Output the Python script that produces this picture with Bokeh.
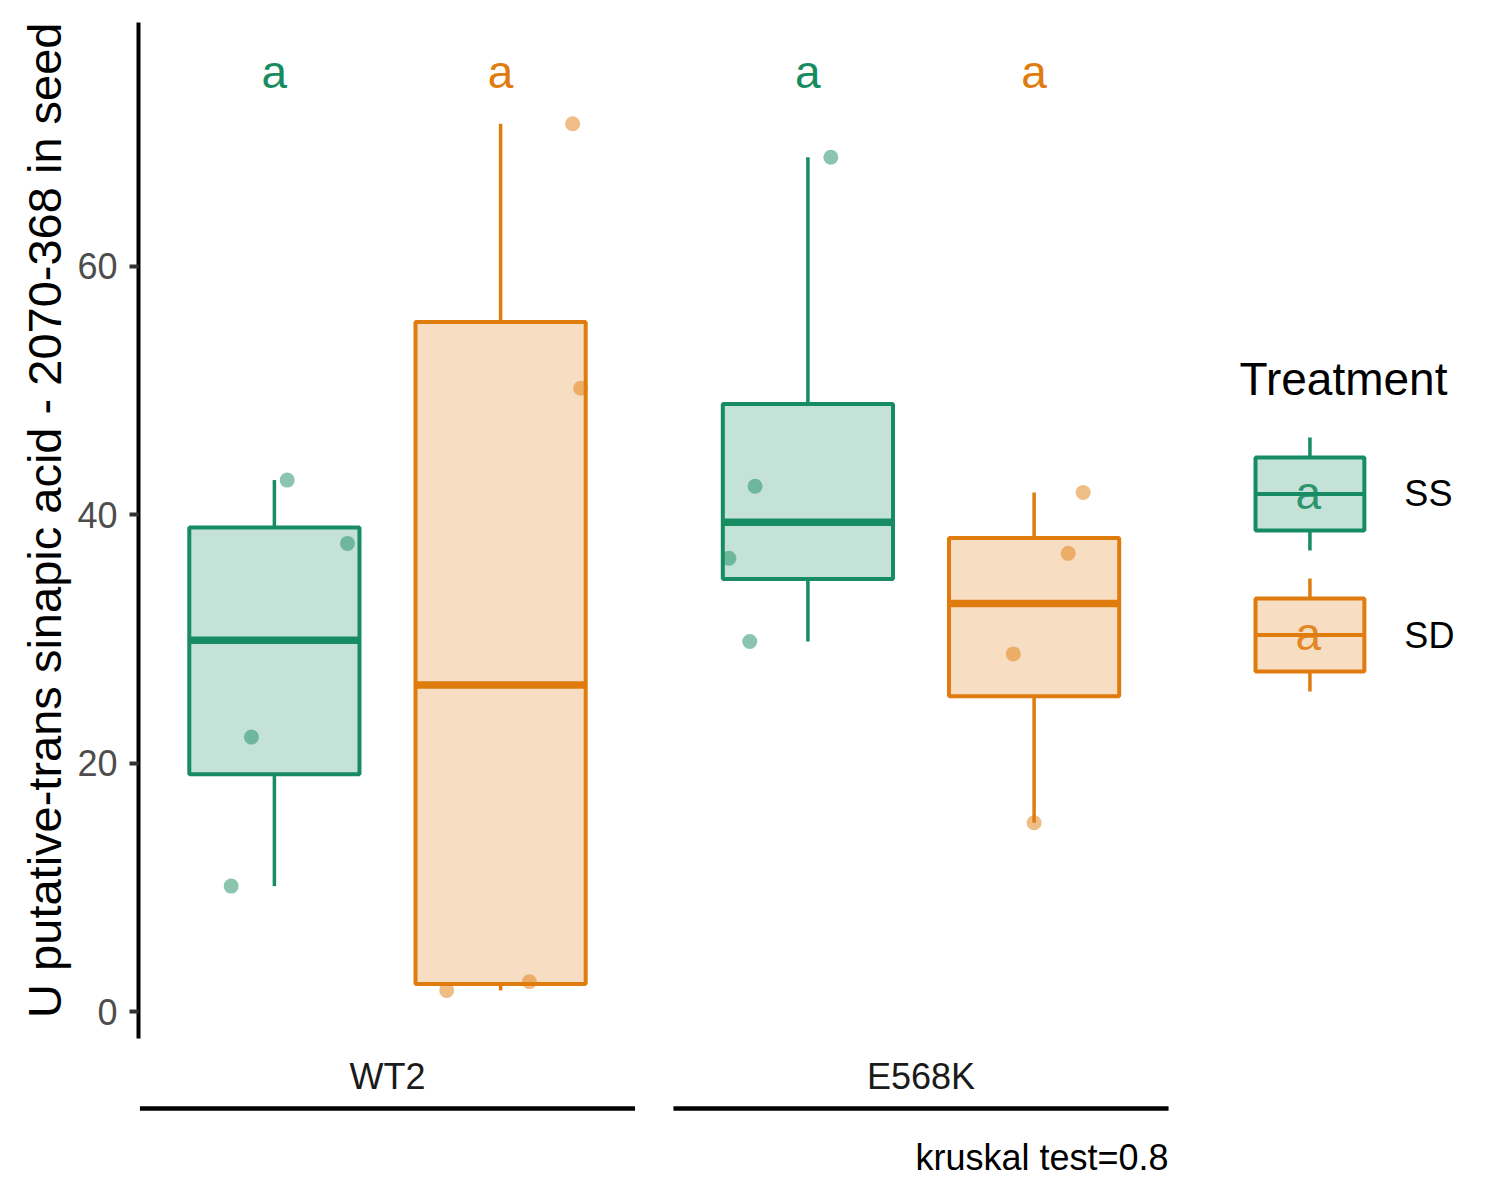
import numpy as np
from bokeh.plotting import figure
from bokeh.models import FixedTicker, Range1d, ColumnDataSource, Title
from bokeh.core.properties import value
from bokeh.embed import file_html
from bokeh.resources import INLINE

# ---------------- data ----------------
genotypes = ["WT2", "E568K"]
treatments = ["SS", "SD"]
treat_colors = ["#178B62", "#E07B0E"]

wt2_ss = [10.1, 22.1, 37.7, 42.8]
wt2_sd = [1.7, 2.4, 50.2, 71.5]
e568k_ss = [29.8, 36.5, 42.3, 68.8]
e568k_sd = [15.2, 28.8, 36.9, 41.8]

# horizontal jitter of each point (x units), as seen in the picture
wt2_ss_jit = [-0.081, -0.043, 0.137, 0.024]
wt2_sd_jit = [-0.101, 0.054, 0.150, 0.135]
e568k_ss_jit = [-0.109, -0.148, -0.099, 0.043]
e568k_sd_jit = [0.000, -0.039, 0.064, 0.092]

letters = ["a", "a", "a", "a"]
letter_y = 75.7
yticks = [0, 20, 40, 60]
y_label = "U putative-trans sinapic acid - 2070-368 in seed"
caption = "kruskal test=0.8"
legend_title = "Treatment"

# ---------------- layout constants ----------------
FONT = "Liberation Sans"
dodge = 0.212
box_w = 0.319
x_lo, x_hi = 0.5333, 3.0562
y_lo, y_hi = -13.93, 79.65
axis_bottom = -2.17

groups = [
    (0, 0, wt2_ss, wt2_ss_jit),
    (0, 1, wt2_sd, wt2_sd_jit),
    (1, 0, e568k_ss, e568k_ss_jit),
    (1, 1, e568k_sd, e568k_sd_jit),
]

box = dict(x=[], left=[], right=[], q1=[], q3=[], med=[], lo=[], hi=[], color=[])
pts = dict(x=[], y=[], color=[])
for gi, ti, vals, jit in groups:
    v = np.array(vals, dtype=float)
    xc = gi + 1 + (-dodge if ti == 0 else dodge)
    q1, med, q3 = np.percentile(v, [25, 50, 75])
    iqr = q3 - q1
    lo = v[v >= q1 - 1.5 * iqr].min()
    hi = v[v <= q3 + 1.5 * iqr].max()
    c = treat_colors[ti]
    box["x"].append(xc)
    box["left"].append(xc - box_w / 2)
    box["right"].append(xc + box_w / 2)
    box["q1"].append(q1)
    box["q3"].append(q3)
    box["med"].append(med)
    box["lo"].append(lo)
    box["hi"].append(hi)
    box["color"].append(c)
    for val, j in zip(vals, jit):
        pts["x"].append(xc + j)
        pts["y"].append(val)
        pts["color"].append(c)

bsrc = ColumnDataSource(box)
psrc = ColumnDataSource(pts)

p = figure(width=1484, height=1184,
           x_range=Range1d(x_lo, x_hi), y_range=Range1d(y_lo, y_hi),
           output_backend="svg", toolbar_location=None,
           min_border_left=138, min_border_top=22,
           min_border_right=0, min_border_bottom=0,
           x_axis_location=None)
p.outline_line_color = None
p.xgrid.visible = False
p.ygrid.visible = False
p.background_fill_color = "white"
p.border_fill_color = "white"

ax = p.yaxis[0]
ax.ticker = FixedTicker(ticks=yticks)
ax.bounds = (axis_bottom, y_hi)
ax.axis_line_width = 4
ax.axis_line_color = "black"
ax.major_tick_in = 0
ax.major_tick_out = 9
ax.major_tick_line_width = 4
ax.major_tick_line_color = "#333333"
ax.minor_tick_line_color = None
ax.major_label_standoff = 12
ax.major_label_text_font = FONT
ax.major_label_text_font_size = "36px"
ax.major_label_text_color = "#4D4D4D"

# y axis title, placed along the data panel (ends at the top of the axis)
p.add_layout(Title(text=y_label, align="right", standoff=8,
                   text_font=FONT, text_font_size="47px",
                   text_font_style="normal", text_color="black"), "left")

# whiskers
p.segment(x0="x", y0="q3", x1="x", y1="hi", line_color="color", line_width=3.5, source=bsrc)
p.segment(x0="x", y0="q1", x1="x", y1="lo", line_color="color", line_width=3.5, source=bsrc)
# boxes
p.quad(left="left", right="right", bottom="q1", top="q3", fill_color="color",
       fill_alpha=0.25, line_color="color", line_width=4, source=bsrc)
# medians
p.segment(x0="left", y0="med", x1="right", y1="med", line_color="color", line_width=7.5, source=bsrc)
# points
p.scatter(x="x", y="y", size=15, fill_color="color", fill_alpha=0.5, line_color=None, source=psrc)
# letters
p.text(x=box["x"], y=[letter_y] * 4, text=letters, text_color=box["color"],
       text_font=value(FONT), text_font_size="46px", text_align="center",
       text_baseline="alphabetic")

# group labels and lines under them
gx = [i + 1 for i in range(len(genotypes))]
p.text(x=gx, y=[-5.23] * len(gx), text=genotypes, text_color="#1A1A1A",
       text_font=value(FONT), text_font_size="36px", text_align="center",
       text_baseline="alphabetic")
p.segment(x0=[g - 0.464 for g in gx], y0=[-7.81] * len(gx),
          x1=[g + 0.464 for g in gx], y1=[-7.81] * len(gx),
          line_color="black", line_width=4.5)
# caption
p.text(x=[2.464], y=[-11.75], text=[caption], text_color="black",
       text_font=value(FONT), text_font_size="36px", text_align="right",
       text_baseline="alphabetic")

# ---------------- legend (drawn manually, ggplot-style keys) ----------------
leg_x = 2.729
leg_half_w = 0.102
leg_rows = [41.68, 30.32]
leg_box_half_h = 2.94
leg_whisk = 4.55
p.text(x=[2.597], y=[50.9], text=[legend_title], text_color="black",
       text_font=value(FONT), text_font_size="46px", text_align="left",
       text_baseline="alphabetic")
for yc, c, lab in zip(leg_rows, treat_colors, treatments):
    p.segment(x0=[leg_x, leg_x], y0=[yc + leg_box_half_h, yc - leg_box_half_h],
              x1=[leg_x, leg_x], y1=[yc + leg_whisk, yc - leg_whisk],
              line_color=c, line_width=3.5)
    p.quad(left=[leg_x - leg_half_w], right=[leg_x + leg_half_w],
           bottom=[yc - leg_box_half_h], top=[yc + leg_box_half_h],
           fill_color=c, fill_alpha=0.25, line_color=c, line_width=4)
    p.segment(x0=[leg_x - leg_half_w], y0=[yc], x1=[leg_x + leg_half_w], y1=[yc],
              line_color=c, line_width=4)
    p.text(x=[leg_x - 0.003], y=[yc + 0.08], text=["a"], text_color=c,
           text_font=value(FONT), text_font_size="46px", text_align="center",
           text_baseline="alphabetic", text_alpha=0.9)
    p.text(x=[2.906], y=[yc + 0.0], text=[lab], text_color="black",
           text_font=value(FONT), text_font_size="36px", text_align="left",
           text_baseline="alphabetic")

open("out.html", "w").write(file_html(p, INLINE))
